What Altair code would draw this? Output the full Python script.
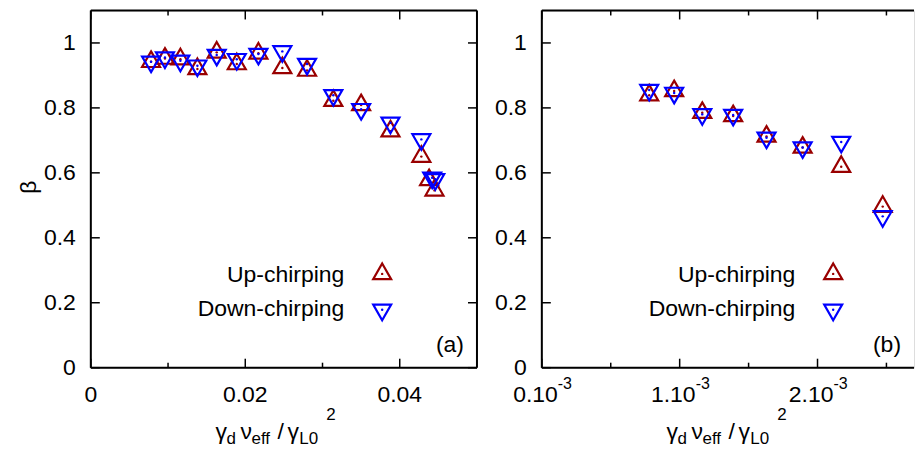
import altair as alt
import pandas as pd

FONT = "Liberation Sans"
FS = 23
RED = "#990000"
BLUE = "#0000ff"

# ---------------- data ----------------
# panel (a)
a_up_x = [0.0078, 0.0096, 0.0116, 0.0138, 0.0163, 0.0189, 0.0217, 0.0248,
          0.0280, 0.0314, 0.0350, 0.0388, 0.0428, 0.0438, 0.0445]
a_up_y = [0.942, 0.952, 0.950, 0.920, 0.971, 0.935, 0.968, 0.923,
          0.915, 0.822, 0.809, 0.728, 0.650, 0.578, 0.546]
a_dn_x = [0.0078, 0.0096, 0.0116, 0.0138, 0.0163, 0.0189, 0.0217, 0.0248,
          0.0280, 0.0314, 0.0350, 0.0388, 0.0428, 0.0442, 0.0446]
a_dn_y = [0.942, 0.955, 0.945, 0.930, 0.963, 0.950, 0.966, 0.974,
          0.935, 0.839, 0.796, 0.754, 0.703, 0.585, 0.580]

# panel (b)
b_up_x = [0.000779, 0.000960, 0.001164, 0.001388, 0.001630, 0.001892,
          0.002172, 0.002473, 0.002790]
b_up_y = [0.839, 0.852, 0.785, 0.775, 0.712, 0.678, 0.619, 0.496, 0.370]
b_dn_x = [0.000779, 0.000960, 0.001164, 0.001388, 0.001630, 0.001892,
          0.002172, 0.002473, 0.002790]
b_dn_y = [0.855, 0.846, 0.780, 0.778, 0.708, 0.678, 0.695, 0.466, 0.372]

# axes
a_xdomain = [0, 0.05]
b_xdomain = [0, 0.0027]
ydomain = [0, 1.1]
a_xmajor = [0, 0.02, 0.04]
a_xminor = [0.01, 0.03]
a_xlabels = ["0", "0.02", "0.04"]
b_xmajor = [0, 0.001, 0.002]
b_xminor = [0.0005, 0.0015, 0.0025]
b_xlabels = ["0.10", "1.10", "2.10"]
b_xsup = ["-3", "-3", "-3"]
yticks = [0, 0.2, 0.4, 0.6, 0.8, 1.0]
ylabels = ["0", "0.2", "0.4", "0.6", "0.8", "1"]
legend_labels = ["Up-chirping", "Down-chirping"]

W1, W2, H = 387, 373, 358

UP_PATH = "M0,-1.04L0.9,0.52L-0.9,0.52Z"
DN_PATH = "M0,1.04L0.9,-0.52L-0.9,-0.52Z"
ONE = pd.DataFrame({"k": [0]})


def tx(text, x, y, size=FS, align="left", baseline="alphabetic", angle=None):
    kw = dict(text=text, align=align, baseline=baseline, font=FONT,
              fontSize=size, color="black")
    if angle is not None:
        kw["angle"] = angle
    return alt.Chart(ONE).mark_text(**kw).encode(x=alt.value(x), y=alt.value(y))


def line(x1, x2, y1, y2, sw=2):
    return alt.Chart(ONE).mark_rule(color="black", strokeWidth=sw).encode(
        x=alt.value(x1), x2=alt.value(x2), y=alt.value(y1), y2=alt.value(y2))


def panel(up_x, up_y, dn_x, dn_y, xdom, W, xmaj, xmin, xlab, tag, is_left):
    xs = alt.Scale(domain=xdom, nice=False, zero=False)
    ys = alt.Scale(domain=ydomain, nice=False, zero=False)
    X = alt.X("x:Q", scale=xs, axis=None)
    Y = alt.Y("y:Q", scale=ys, axis=None)

    up = pd.DataFrame({"x": up_x, "y": up_y})
    dn = pd.DataFrame({"x": dn_x, "y": dn_y})

    layers = []
    layers.append(alt.Chart(up).mark_point(shape=UP_PATH, size=400, filled=False,
                                           stroke=RED, strokeWidth=2.2, opacity=1,
                                           clip=True).encode(x=X, y=Y))
    layers.append(alt.Chart(up).mark_point(shape="circle", size=6, filled=True,
                                           color=RED, opacity=1, clip=True).encode(x=X, y=Y))
    layers.append(alt.Chart(dn).mark_point(shape=DN_PATH, size=400, filled=False,
                                           stroke=BLUE, strokeWidth=2.2, opacity=1,
                                           clip=True).encode(x=X, y=Y))
    layers.append(alt.Chart(dn).mark_point(shape="circle", size=6, filled=True,
                                           color=BLUE, opacity=1, clip=True).encode(x=X, y=Y))

    # ticks (inward)
    dmaj = pd.DataFrame({"x": xmaj})
    dmin = pd.DataFrame({"x": xmin})
    dy = pd.DataFrame({"y": yticks, "lab": ylabels})
    r = dict(color="black", strokeWidth=1.5)
    layers.append(alt.Chart(dmaj).mark_rule(**r).encode(x=X, y=alt.value(H), y2=alt.value(H - 9)))
    layers.append(alt.Chart(dmaj).mark_rule(**r).encode(x=X, y=alt.value(0), y2=alt.value(9)))
    layers.append(alt.Chart(dmin).mark_rule(**r).encode(x=X, y=alt.value(H), y2=alt.value(H - 5)))
    layers.append(alt.Chart(dmin).mark_rule(**r).encode(x=X, y=alt.value(0), y2=alt.value(5)))
    layers.append(alt.Chart(dy).mark_rule(**r).encode(y=Y, x=alt.value(0), x2=alt.value(9)))
    if is_left:
        layers.append(alt.Chart(dy).mark_rule(**r).encode(y=Y, x=alt.value(W - 9), x2=alt.value(W)))

    # frame
    layers.append(line(0, W, 0, 0))
    layers.append(line(0, W, H, H))
    layers.append(line(0, 0, 0, H))
    if is_left:
        layers.append(line(W, W, 0, H))

    # y tick labels
    layers.append(alt.Chart(dy).mark_text(align="right", baseline="middle", font=FONT,
                                          fontSize=FS, color="black").encode(
        y=Y, x=alt.value(-15), text="lab:N"))

    # x tick labels
    if is_left:
        dl = pd.DataFrame({"x": xmaj, "lab": xlab})
        layers.append(alt.Chart(dl).mark_text(align="center", baseline="top", font=FONT,
                                              fontSize=FS, color="black").encode(
            x=X, y=alt.value(H + 16), text="lab:N"))
    else:
        dl = pd.DataFrame({"x": xmaj, "lab": xlab, "sup": b_xsup})
        layers.append(alt.Chart(dl).mark_text(align="right", baseline="top", font=FONT,
                                              fontSize=FS, color="black", dx=16).encode(
            x=X, y=alt.value(H + 16), text="lab:N"))
        layers.append(alt.Chart(dl).mark_text(align="left", baseline="top", font=FONT,
                                              fontSize=16, color="black", dx=16).encode(
            x=X, y=alt.value(H + 8), text="sup:N"))

    # legend
    layers.append(tx(legend_labels[0], 254, 265, align="right", baseline="middle"))
    layers.append(tx(legend_labels[1], 254, 299, align="right", baseline="middle"))
    layers.append(alt.Chart(ONE).mark_point(shape=UP_PATH, size=400, filled=False, stroke=RED,
                                            strokeWidth=2.2, opacity=1).encode(
        x=alt.value(292), y=alt.value(264)))
    layers.append(alt.Chart(ONE).mark_point(shape="circle", size=6, filled=True, color=RED,
                                            opacity=1).encode(x=alt.value(292), y=alt.value(264)))
    layers.append(alt.Chart(ONE).mark_point(shape=DN_PATH, size=400, filled=False, stroke=BLUE,
                                            strokeWidth=2.2, opacity=1).encode(
        x=alt.value(292), y=alt.value(300)))
    layers.append(alt.Chart(ONE).mark_point(shape="circle", size=6, filled=True, color=BLUE,
                                            opacity=1).encode(x=alt.value(292), y=alt.value(300)))

    # panel tag
    layers.append(tx(tag, W - 13, 335, align="right", baseline="middle"))

    # x title: γd νeff / γL0^2
    yb = 429
    layers.append(tx("γ", 125, yb))
    layers.append(tx("d", 136, yb + 5, size=17))
    layers.append(tx("ν", 150, yb))
    layers.append(tx("eff", 161, yb + 5, size=17))
    layers.append(tx("/", 187, yb))
    layers.append(tx("γ", 197, yb))
    layers.append(tx("L0", 209, yb + 5, size=17))
    layers.append(tx("2", 236, yb - 19, size=17))

    if is_left:
        layers.append(tx("β", -62, 177, align="center", baseline="middle", angle=270))
        # invisible anchor fixing the left edge of the drawing
        layers.append(alt.Chart(ONE).mark_rule(strokeOpacity=0, strokeWidth=0).encode(
            x=alt.value(-82), x2=alt.value(-82), y=alt.value(0), y2=alt.value(5)))

    return alt.layer(*layers).properties(width=W, height=H)


left = panel(a_up_x, a_up_y, a_dn_x, a_dn_y, a_xdomain, W1, a_xmajor, a_xminor,
             a_xlabels, "(a)", True)
right = panel(b_up_x, b_up_y, b_dn_x, b_dn_y, b_xdomain, W2, b_xmajor, b_xminor,
              b_xlabels, "(b)", False)

chart = alt.hconcat(left, right, spacing=65).properties(
    bounds="flush", padding={"left": 0, "top": 0, "right": 0, "bottom": 0}
).configure_view(stroke=None).configure(background="white")

chart.save("out.html", embed_options={"renderer": "svg", "actions": False})
